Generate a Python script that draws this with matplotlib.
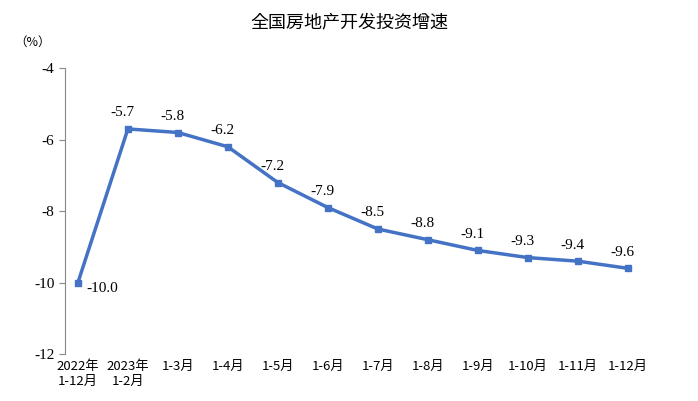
import matplotlib.pyplot as plt
from matplotlib import font_manager

# datos
categorias = ['2022年\n1-12月', '2023年\n1-2月', '1-3月', '1-4月', '1-5月', '1-6月',
              '1-7月', '1-8月', '1-9月', '1-10月', '1-11月', '1-12月']
valores = [-10.0, -5.7, -5.8, -6.2, -7.2, -7.9, -8.5, -8.8, -9.1, -9.3, -9.4, -9.6]
yticks = [-12, -10, -8, -6, -4]

# buscar una fuente CJK disponible
nombres = {f.name for f in font_manager.fontManager.ttflist}
cjk = 'DejaVu Sans'
for n in ['Noto Sans CJK SC', 'Noto Sans CJK JP', 'Noto Sans CJK TC', 'Noto Sans CJK KR',
          'Noto Sans SC', 'Noto Sans CJK']:
    if n in nombres:
        cjk = n
        break
else:
    for n in nombres:
        if 'CJK' in n:
            cjk = n
            break
serif = 'Liberation Serif'

fig = plt.figure(figsize=(6.98, 4.01), dpi=100)
ax = fig.add_axes([0.093, 0.117, 0.845, 0.713])
x = list(range(len(valores)))
ax.plot(x, valores, color='#4472C4', lw=2.5, marker='s', ms=5)

for i, v in enumerate(valores):
    if i == 0:
        ax.annotate(f'{v:.1f}', (i, v), xytext=(6, -7), textcoords='offset points',
                    ha='left', fontsize=11, family=serif)
    else:
        ax.annotate(f'{v:.1f}', (i, v), xytext=(-4, 9), textcoords='offset points',
                    ha='center', fontsize=11, family=serif)

ax.set_xlim(-0.26, 11.54)
ax.set_ylim(-12, -4)
ax.set_yticks(yticks)
ax.set_yticklabels([str(t) for t in yticks], family=serif, fontsize=11)
ax.set_xticks(x)
ax.set_xticklabels(categorias, family=cjk, fontsize=9.5, va='top')
ax.tick_params(axis='x', length=0, pad=4)
ax.tick_params(axis='y', direction='out', length=4, color='#888888')
for s in ['top', 'right', 'bottom']:
    ax.spines[s].set_visible(False)
ax.spines['left'].set_color('#888888')

fig.text(0.5, 0.945, '全国房地产开发投资增速', ha='center', va='center',
         family=cjk, fontsize=13)
fig.text(0.02, 0.895, '（%）', ha='left', va='center', family=cjk, fontsize=9)

fig.savefig('out.png', dpi=100)
